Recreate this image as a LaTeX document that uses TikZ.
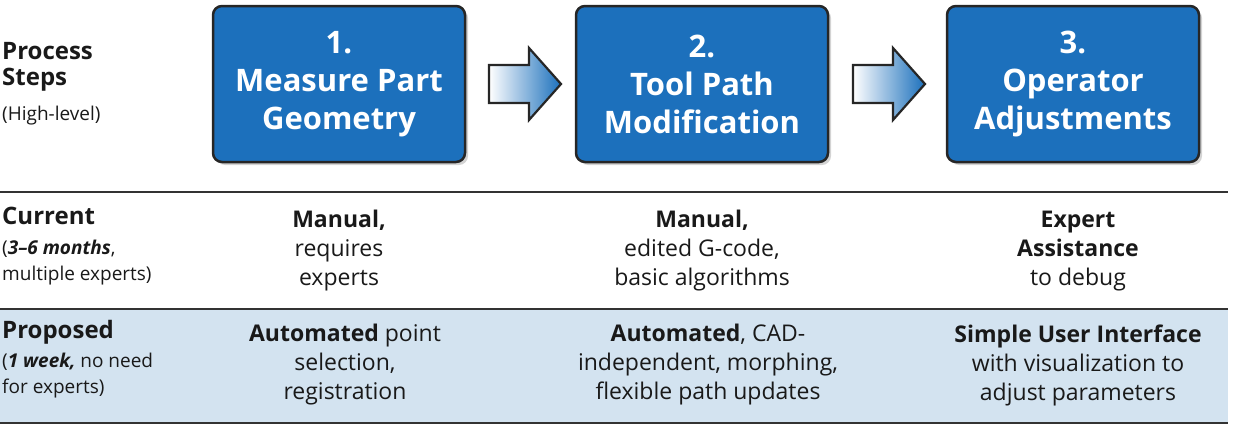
\documentclass[tikz,border=0pt]{standalone}
\usepackage{fontspec}
\setmainfont{Open Sans}
\usetikzlibrary{shadows}
\definecolor{boxblue}{HTML}{1C70BC}
\definecolor{rowblue}{HTML}{D3E3F0}
\begin{document}
\begin{tikzpicture}[x=1pt,y=-1pt,
  stepbox/.style={draw=black!85,line width=2.5pt,rounded corners=9pt,fill=boxblue,minimum width=252pt,minimum height=156pt,text=white,font=\fontsize{31}{38}\selectfont\bfseries,align=center,drop shadow={opacity=0.35,shadow xshift=3pt,shadow yshift=-3pt}},
  cell/.style={font=\fontsize{23}{29}\selectfont,align=center,text=black!90},
  lab/.style={font=\fontsize{24}{26}\selectfont\bfseries,align=left,anchor=north west,inner sep=0pt,text=black!90},
  sub/.style={font=\fontsize{19}{26}\selectfont,align=left,anchor=north west,inner sep=0pt,text=black!90},
  arr/.style={draw=black!85,line width=2.2pt,left color=white,right color=boxblue,line join=miter}]
\useasboundingbox (0,0) rectangle (1238,431);
% rows
\fill[rowblue] (0,309) rectangle (1228,423);
\coordinate (l1a) at (0,192); \coordinate (l1b) at (1228,192);
\coordinate (l2a) at (0,309); \coordinate (l2b) at (1228,309);
\coordinate (l3a) at (0,423); \coordinate (l3b) at (1228,423);
\draw[black!80,line width=1.6pt] (l1a)--(l1b);
\draw[black!80,line width=1.6pt] (l2a)--(l2b);
\draw[black!80,line width=1.6pt] (l3a)--(l3b);
% boxes
\node[stepbox] (s1) at (339,84) {1.\\Measure Part\\Geometry};
\node[stepbox] (s2) at (702,84) {2.\\Tool Path\\Modification};
\node[stepbox] (s3) at (1073,84) {3.\\Operator\\Adjustments};
% arrows
\path[arr] (489,65)--(529,65)--(529,48)--(561,84)--(529,120)--(529,103)--(489,103)--cycle;
\path[arr] (853,65)--(893,65)--(893,48)--(925,84)--(893,120)--(893,103)--(853,103)--cycle;
% left labels
\node[lab] (p1) at (2,42) {Process\\Steps};
\node[sub] (p2) at (2,106) {(High-level)};
\node[lab] (c1) at (2,207) {Current};
\node[sub] (c2) at (2,240) {(\textbf{\itshape 3–6 months},\\multiple experts)};
\node[lab] (r1) at (2,320) {Proposed};
\node[sub] (r2) at (2,353) {(\textbf{\itshape 1 week,} no need\\for experts)};
% current row
\node[cell] (c11) at (339,251) {\textbf{Manual,}\\requires\\experts};
\node[cell] (c12) at (702,251) {\textbf{Manual,}\\edited G-code,\\basic algorithms};
\node[cell] (c13) at (1078,251) {\textbf{Expert}\\\textbf{Assistance}\\to debug};
% proposed row
\node[cell] (r11) at (345,365) {\textbf{Automated} point\\selection,\\registration};
\node[cell] (r12) at (708,365) {\textbf{Automated}, CAD-\\independent, morphing,\\flexible path updates};
\node[cell] (r13) at (1078,365) {\textbf{Simple User Interface}\\with visualization to\\adjust parameters};
\end{tikzpicture}
\end{document}
